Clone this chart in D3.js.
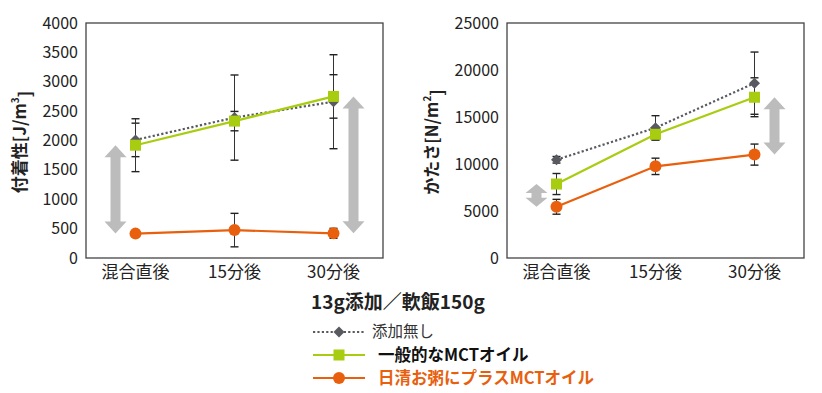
<!DOCTYPE html>
<html>
<head>
<meta charset="utf-8">
<script src="https://cdn.jsdelivr.net/npm/d3@7"></script>
<style>
  body { margin: 0; background: #fff; }
  svg { font-family: "Noto Sans CJK JP", "Noto Sans", sans-serif; }
</style>
</head>
<body>
<svg id="chart" width="822" height="393"></svg>
<script>
// categories (x axis)
const categories = ['混合直後', '15分後', '30分後'];

// series names
const seriesNames = ['添加無し', '一般的なMCTオイル', '日清お粥にプラスMCTオイル'];

// 付着性 [J/m3] means and error bars
const adhNone = [2010, 2390, 2660];
const adhNoneErr = [285, 725, 800];
const adhMct = [1920, 2330, 2750];
const adhMctErr = [450, 165, 370];
const adhPlus = [415, 475, 420];
const adhPlusErr = [40, 285, 85];

// かたさ [N/m2] means and error bars
const hardNone = [10450, 13850, 18600];
const hardNoneErr = [350, 1290, 3310];
const hardMct = [7870, 13160, 17100];
const hardMctErr = [1120, 600, 2070];
const hardPlus = [5450, 9750, 11000];
const hardPlusErr = [790, 870, 1120];

// tick labels
const adhTicks = [0, 500, 1000, 1500, 2000, 2500, 3000, 3500, 4000];
const hardTicks = [0, 5000, 10000, 15000, 20000, 25000];

// arrow markers: category index, which side of the point
const adhArrows = [{cat: 0, side: -1}, {cat: 2, side: 1}];
const hardArrows = [{cat: 0, side: -1}, {cat: 2, side: 1}];

const colors = {none: '#585a60', mct: '#a8cc10', plus: '#e8600e'};
const svg = d3.select('#chart');

function drawPanel(cfg) {
  const g = svg.append('g');
  const x = d3.scaleBand().domain(categories).range([cfg.left, cfg.right]);
  const y = d3.scaleLinear().domain([0, cfg.max]).range([258, 23]);
  const cx = c => x(c) + x.bandwidth() / 2;

  // frame
  g.append('rect')
    .attr('x', cfg.left).attr('y', 23)
    .attr('width', cfg.right - cfg.left).attr('height', 235)
    .attr('fill', 'none').attr('stroke', '#444').attr('stroke-width', 1.3);

  // y tick labels
  g.selectAll('.ytick').data(cfg.ticks).join('text')
    .attr('x', cfg.left - 8).attr('y', d => y(d))
    .attr('dy', '0.35em').attr('text-anchor', 'end')
    .attr('font-size', 16).attr('fill', '#222')
    .text(d => d);

  // x tick labels
  g.selectAll('.xtick').data(categories).join('text')
    .attr('x', d => cx(d)).attr('y', 272)
    .attr('dy', '0.35em').attr('text-anchor', 'middle')
    .attr('font-size', 17).attr('fill', '#222')
    .text(d => d);

  // y title
  const tx = cfg.titleX, ty = 142;
  const title = g.append('text')
    .attr('transform', `translate(${tx},${ty}) rotate(-90)`)
    .attr('text-anchor', 'middle').attr('dy', '0.35em')
    .attr('font-size', 17).attr('font-weight', 'bold').attr('fill', '#222');
  title.append('tspan').text(cfg.title);
  title.append('tspan').attr('font-size', 10).attr('dy', '-0.7em').text(cfg.sup);
  title.append('tspan').attr('dy', '0.7em').text(']');

  // big gray arrows between MCT and plus series
  cfg.arrows.forEach(a => {
    const ax = cx(categories[a.cat]) + a.side * 20;
    const y1 = y(cfg.mct[a.cat]), y2 = y(cfg.plus[a.cat]);
    const len = y2 - y1;
    const hl = Math.min(12, len * 0.4), hw = 11, sw = 5;
    const p = [
      [ax, y1], [ax + hw, y1 + hl], [ax + sw, y1 + hl], [ax + sw, y2 - hl],
      [ax + hw, y2 - hl], [ax, y2], [ax - hw, y2 - hl], [ax - sw, y2 - hl],
      [ax - sw, y1 + hl], [ax - hw, y1 + hl]
    ];
    g.append('path').attr('d', d3.line()(p) + 'Z').attr('fill', '#bcbcbc');
  });

  const series = [
    {key: 'none', vals: cfg.none, err: cfg.noneErr},
    {key: 'mct', vals: cfg.mct, err: cfg.mctErr},
    {key: 'plus', vals: cfg.plus, err: cfg.plusErr}
  ];

  // error bars
  series.forEach(s => {
    const eb = g.append('g');
    s.vals.forEach((v, i) => {
      const px = cx(categories[i]);
      const top = y(v + s.err[i]), bot = y(v - s.err[i]);
      eb.append('line').attr('x1', px).attr('x2', px).attr('y1', top).attr('y2', bot)
        .attr('stroke', '#333').attr('stroke-width', 1);
      [top, bot].forEach(yy => eb.append('line')
        .attr('x1', px - 4).attr('x2', px + 4).attr('y1', yy).attr('y2', yy)
        .attr('stroke', '#222').attr('stroke-width', 1.4));
    });
  });

  // lines and markers
  series.forEach(s => {
    const line = d3.line().x((d, i) => cx(categories[i])).y(d => y(d));
    g.append('path').datum(s.vals).attr('d', line)
      .attr('fill', 'none').attr('stroke', colors[s.key])
      .attr('stroke-width', s.key === 'none' ? 2.2 : 2.2)
      .attr('stroke-dasharray', s.key === 'none' ? '2.2,2.2' : null);
    s.vals.forEach((v, i) => drawMarker(g, s.key, cx(categories[i]), y(v)));
  });
}

function drawMarker(g, key, px, py) {
  if (key === 'none') {
    g.append('path').attr('d', d3.symbol(d3.symbolSquare, 60)())
      .attr('transform', `translate(${px},${py}) rotate(45)`).attr('fill', colors.none);
  } else if (key === 'mct') {
    g.append('rect').attr('x', px - 5.5).attr('y', py - 5.5)
      .attr('width', 11).attr('height', 11).attr('fill', colors.mct);
  } else {
    g.append('circle').attr('cx', px).attr('cy', py).attr('r', 6).attr('fill', colors.plus);
  }
}

drawPanel({
  left: 86, right: 383, max: 4000, ticks: adhTicks, titleX: 20,
  title: '付着性[J/m', sup: '3',
  none: adhNone, noneErr: adhNoneErr, mct: adhMct, mctErr: adhMctErr,
  plus: adhPlus, plusErr: adhPlusErr, arrows: adhArrows
});

drawPanel({
  left: 507, right: 804, max: 25000, ticks: hardTicks, titleX: 432,
  title: 'かたさ[N/m', sup: '2',
  none: hardNone, noneErr: hardNoneErr, mct: hardMct, mctErr: hardMctErr,
  plus: hardPlus, plusErr: hardPlusErr, arrows: hardArrows
});

// condition caption
svg.append('text').attr('x', 311).attr('y', 302).attr('dy', '0.35em')
  .attr('font-size', 19).attr('font-weight', 'bold').attr('fill', '#222')
  .text('13g添加／軟飯150g');

// legend
const legendKeys = ['none', 'mct', 'plus'];
const legendY = [332, 355, 378];
const legendTextX = [372, 378, 378];
const lg = svg.append('g');
legendKeys.forEach((k, i) => {
  lg.append('line').attr('x1', 313).attr('x2', 365).attr('y1', legendY[i]).attr('y2', legendY[i])
    .attr('stroke', colors[k]).attr('stroke-width', 2.2)
    .attr('stroke-dasharray', k === 'none' ? '2.2,2.2' : null);
  drawMarker(lg, k, 339, legendY[i]);
  lg.append('text').attr('x', legendTextX[i]).attr('y', legendY[i]).attr('dy', '0.35em')
    .attr('font-size', k === 'none' ? 15.5 : 16.5)
    .attr('font-weight', k === 'none' ? 'normal' : 'bold')
    .attr('fill', k === 'none' ? '#333' : (k === 'plus' ? colors.plus : '#111'))
    .text(seriesNames[i]);
});
</script>
</body>
</html>
